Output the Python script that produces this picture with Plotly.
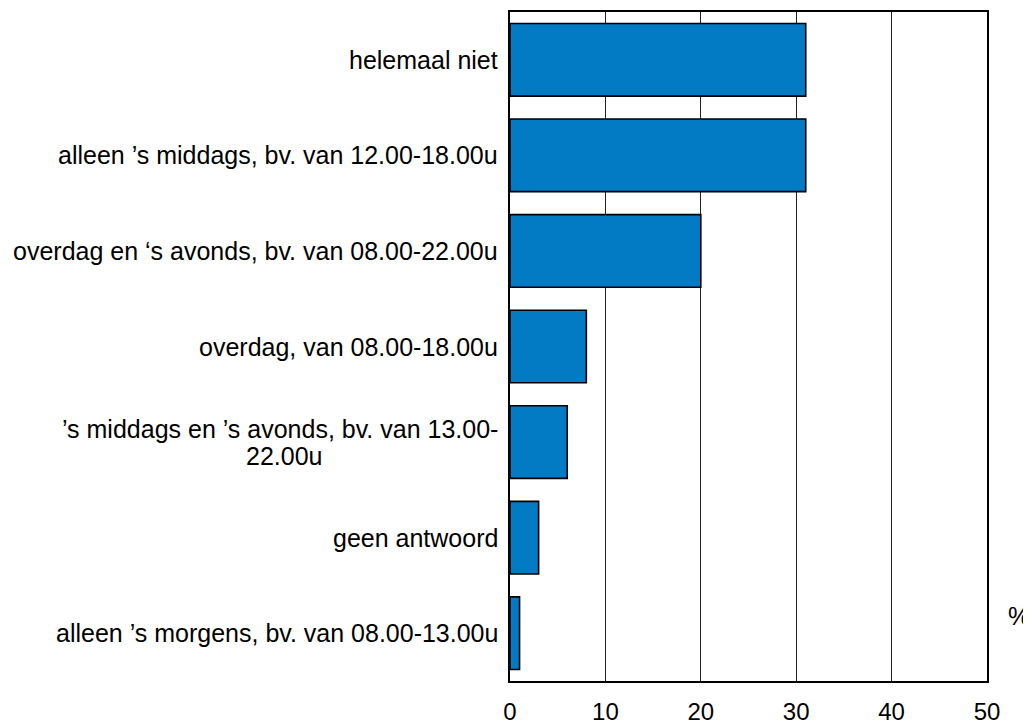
import plotly.graph_objects as go

categories = [
    "helemaal niet",
    "alleen ’s middags, bv. van 12.00-18.00u",
    "overdag en ‘s avonds, bv. van 08.00-22.00u",
    "overdag, van 08.00-18.00u",
    "’s middags en ’s avonds, bv. van 13.00-<br>22.00u",
    "geen antwoord",
    "alleen ’s morgens, bv. van 08.00-13.00u",
]
values = [31, 31, 20, 8, 6, 3, 1]
x_ticks = [0, 10, 20, 30, 40, 50]

FONT = "Liberation Sans, Arial, sans-serif"
FS = 25

fig = go.Figure()
fig.add_trace(go.Bar(
    x=values, y=categories, orientation="h",
    marker=dict(color="#037BC4", line=dict(color="black", width=1.6)),
    width=0.76,
))

LINE_H = 27
for c in categories:
    lines = c.split("<br>")
    n = len(lines)
    for i, ln in enumerate(lines):
        yshift = ((n - 1) / 2 - i) * LINE_H
        if i == 0:
            kw = dict(xanchor="right", xshift=-10)
        else:
            kw = dict(xanchor="center", xshift=-226)
        fig.add_annotation(
            x=0, xref="paper", y=c, yref="y", yshift=yshift,
            text=ln, showarrow=False,
            font=dict(family=FONT, size=FS, color="black"), **kw,
        )

fig.add_annotation(
    x=1, xref="paper", y=0.073, yref="paper", xanchor="left", xshift=19,
    text="%", showarrow=False, font=dict(family=FONT, size=FS, color="black"),
)

fig.update_layout(
    width=1023, height=719,
    margin=dict(l=502, r=44, t=4, b=46),
    paper_bgcolor="white", plot_bgcolor="white",
    showlegend=False,
    font=dict(family=FONT, size=FS, color="black"),
)
fig.update_xaxes(
    range=[0, 50], tickvals=x_ticks, showgrid=True, gridcolor="#222222", gridwidth=1,
    showline=True, linecolor="black", linewidth=1.5, mirror=True,
    zeroline=False, ticks="", ticklabelstandoff=8, automargin=False,
    tickfont=dict(family=FONT, size=24),
)
fig.update_yaxes(
    categoryorder="array", categoryarray=categories, autorange="reversed",
    showticklabels=False, showgrid=False, ticks="", automargin=False,
    showline=True, linecolor="black", linewidth=1.5, mirror=True,
)

fig.write_html("out.html")
